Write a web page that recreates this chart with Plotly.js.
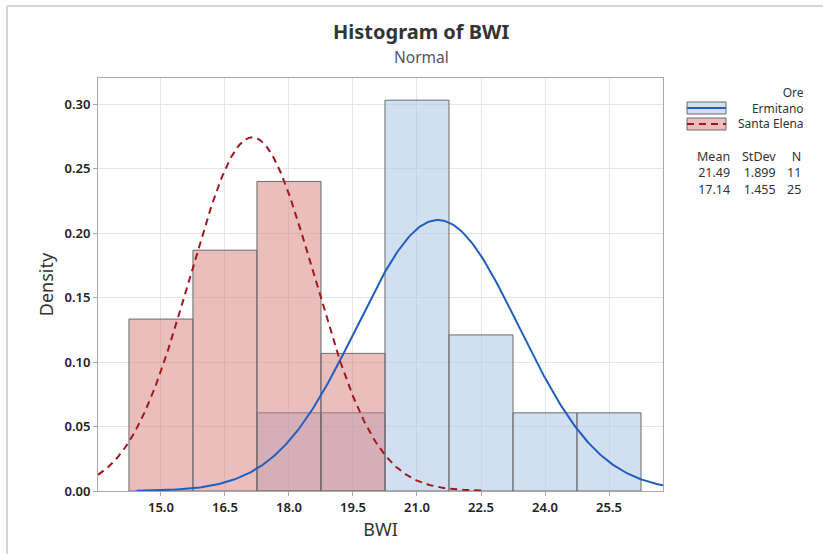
<!DOCTYPE html>
<html>
<head>
<meta charset="utf-8">
<script src="https://cdn.plot.ly/plotly-3.0.1.min.js"></script>
<style>html,body{margin:0;padding:0;background:#fff;}#chart{width:823px;height:554px;}</style>
</head>
<body>
<div id="chart"></div>
<script>
// ---- data ----
const binWidth = 1.5;
const ermitanoCenters = [18.0, 19.5, 21.0, 22.5, 24.0, 25.5];
const ermitanoDensity = [0.0606, 0.0606, 0.303, 0.121, 0.0606, 0.0606];
const santaCenters = [15.0, 16.5, 18.0, 19.5];
const santaDensity = [0.1333, 0.1867, 0.240, 0.1067];
const groups = ["Ermitano", "Santa Elena"];
const means = [21.49, 17.14];
const stdevs = [1.899, 1.455];
const counts = [11, 25];
const xTicks = [15.0, 16.5, 18.0, 19.5, 21.0, 22.5, 24.0, 25.5];
const xTickText = ["15.0", "16.5", "18.0", "19.5", "21.0", "22.5", "24.0", "25.5"];
const yTicks = [0, 0.05, 0.10, 0.15, 0.20, 0.25, 0.30];
const yTickText = ["0.00", "0.05", "0.10", "0.15", "0.20", "0.25", "0.30"];

// ---- layout geometry ----
const W = 823, H = 554;
const M = {l: 98, r: 160, t: 78, b: 63};
const PW = W - M.l - M.r, PH = H - M.t - M.b;
const px = x => (x - M.l) / PW;
const py = y => (H - M.b - y) / PH;
const xRange = [13.525, 26.765];

const blueFill = 'rgba(173,196,230,0.55)';
const redFill = 'rgba(216,126,126,0.5)';
const blueLine = '#1f5fbf';
const redLine = '#a0181e';
const fontFam = '"Noto Sans", "Open Sans", sans-serif';

function normalCurve(mu, sd) {
  const xs = [], ys = [];
  const lo = Math.max(mu - 3.72 * sd, xRange[0]);
  const hi = Math.min(mu + 3.72 * sd, xRange[1]);
  const n = 300;
  for (let i = 0; i <= n; i++) {
    const x = lo + (hi - lo) * i / n;
    xs.push(x);
    ys.push(Math.exp(-0.5 * Math.pow((x - mu) / sd, 2)) / (sd * Math.sqrt(2 * Math.PI)));
  }
  return {xs, ys};
}
const cE = normalCurve(means[0], stdevs[0]);
const cS = normalCurve(means[1], stdevs[1]);

const traces = [
  {type: 'bar', x: ermitanoCenters, y: ermitanoDensity, width: binWidth, name: groups[0],
   marker: {color: blueFill, line: {color: '#6b6b6b', width: 1}}, showlegend: false},
  {type: 'bar', x: santaCenters, y: santaDensity, width: binWidth, name: groups[1],
   marker: {color: redFill, line: {color: '#6b6b6b', width: 1}}, showlegend: false},
  {type: 'scatter', mode: 'lines', x: cE.xs, y: cE.ys, line: {color: blueLine, width: 2}, showlegend: false},
  {type: 'scatter', mode: 'lines', x: cS.xs, y: cS.ys, line: {color: redLine, width: 2, dash: '7px,5px'}, showlegend: false}
];

const txt = (x, y, text, size, opts = {}) => Object.assign({
  xref: 'paper', yref: 'paper', x: px(x), y: py(y), text: text, showarrow: false,
  xanchor: 'right', yanchor: 'middle', align: 'right',
  font: {family: fontFam, size: size, color: '#333'}
}, opts);

const annotations = [
  txt(421, 32, 'Histogram of BWI', 20,
      {xanchor: 'center', align: 'center', font: {family: fontFam, size: 20, color: '#333', weight: 'bold'}}),
  txt(421, 56.5, 'Normal', 15.5,
      {xanchor: 'center', align: 'center', font: {family: fontFam, size: 15.5, color: '#555'}}),
  txt(806, 108, 'Ore<br>' + groups.join('<br>'), 12),
  txt(732, 173, 'Mean<br>' + means.map(v => v.toFixed(2)).join('<br>'), 12.5),
  txt(778, 173, 'StDev<br>' + stdevs.map(v => v.toFixed(3)).join('<br>'), 12.5),
  txt(803, 173, 'N<br>' + counts.map(String).join('<br>'), 12.5)
];

const shapes = [
  // outer frame
  {type: 'line', xref: 'paper', yref: 'paper', x0: px(7), x1: px(7), y0: py(6), y1: py(554), line: {color: '#c8c8c8', width: 1.5}},
  {type: 'line', xref: 'paper', yref: 'paper', x0: px(7), x1: px(823), y0: py(6), y1: py(6), line: {color: '#c8c8c8', width: 1.5}},
  // legend symbols
  {type: 'rect', xref: 'paper', yref: 'paper', x0: px(687), x1: px(726), y0: py(102), y1: py(114), fillcolor: blueFill, line: {color: '#6b6b6b', width: 1}},
  {type: 'line', xref: 'paper', yref: 'paper', x0: px(687), x1: px(726), y0: py(108), y1: py(108), line: {color: blueLine, width: 2}},
  {type: 'rect', xref: 'paper', yref: 'paper', x0: px(687), x1: px(726), y0: py(118), y1: py(130), fillcolor: redFill, line: {color: '#6b6b6b', width: 1}},
  {type: 'line', xref: 'paper', yref: 'paper', x0: px(687), x1: px(726), y0: py(124), y1: py(124), line: {color: redLine, width: 2, dash: '7px,5px'}}
];

const layout = {
  width: W, height: H,
  margin: M,
  paper_bgcolor: '#fff', plot_bgcolor: '#fff',
  barmode: 'overlay', bargap: 0,
  showlegend: false,
  hovermode: false,
  xaxis: {
    range: xRange, tickvals: xTicks, ticktext: xTickText,
    showgrid: true, gridcolor: '#e6e6e6', gridwidth: 1,
    showline: true, linecolor: '#a8a8a8', linewidth: 1, mirror: true,
    ticks: 'outside', ticklen: 4, tickcolor: '#a8a8a8',
    tickfont: {family: fontFam, size: 13, color: '#222', weight: 600},
    zeroline: false,
    title: {text: 'BWI', font: {family: fontFam, size: 18, color: '#333'}, standoff: 8}
  },
  yaxis: {
    range: [0, 0.3202], tickvals: yTicks, ticktext: yTickText,
    showgrid: true, gridcolor: '#e6e6e6', gridwidth: 1,
    showline: true, linecolor: '#a8a8a8', linewidth: 1, mirror: true,
    ticks: 'outside', ticklen: 4, tickcolor: '#a8a8a8',
    tickfont: {family: fontFam, size: 13, color: '#222', weight: 600},
    zeroline: false,
    title: {text: 'Density', font: {family: fontFam, size: 18, color: '#333'}, standoff: 6}
  },
  annotations: annotations,
  shapes: shapes
};

Plotly.newPlot('chart', traces, layout, {displayModeBar: false, staticPlot: true});
</script>
</body>
</html>
